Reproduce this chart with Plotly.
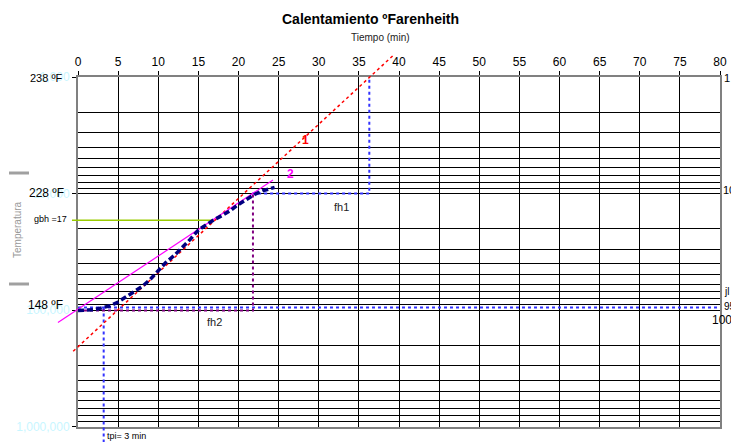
import math
import plotly.graph_objects as go

# ---------------- data ----------------
time_min = [0, 1, 2, 3, 4, 5, 6, 7, 8, 9, 10, 11, 12, 13, 14, 15, 16, 17, 18, 19, 20, 21, 22, 23, 24, 24.5]
g_curve = [101, 100.5, 99.5, 95.7, 92, 85.3, 77.4, 70.1, 62.8, 54.6, 46.4, 38.8, 34.0, 29.1, 24.7, 20.6,
           18.4, 16.7, 15.4, 14.0, 12.4, 11.2, 10.2, 9.5, 9.06, 8.85]

line1_t = [-0.6, 39.2]
line1_g = [226, 0.66]
line2_t = [-2.5, 24.3]
line2_g = [128, 7.66]

fh1_t = [21.7, 36.3, 36.3]
fh1_g = [10, 10, 1]
fh2_t = [0, 21.8, 21.8]
fh2_g = [101, 101, 10]

jl_t = [0, 80]
jl_g = [95, 95]
tpi_t = [3.2, 3.2]
tpi_g = [95, 1400]

gbh_t = [-0.75, 16.8]
gbh_g = [17, 17]

x_ticks = list(range(0, 81, 5))
y_major = [1, 10, 100, 1000]
y_major_text = ["1,000", "10,000", "100,000", "1,000,000"]
y_minor = [m * d for d in (1, 10, 100) for m in range(2, 10)]

# ---------------- geometry ----------------
W, H = 731, 442
X0, X1 = 78, 720
Y0, Y1 = 77, 426.5
XR = [0, 80]
YR_LOG = [3, 0]  # reversed log axis: 1 at top, 1000 at bottom

ppu = (X1 - X0) / (XR[1] - XR[0])
ppd = (Y1 - Y0) / (YR_LOG[0] - YR_LOG[1])
x2_range = [XR[0] - X0 / ppu, XR[1] + (W - X1) / ppu]
y2_range = [YR_LOG[0] + (H - Y1) / ppd, YR_LOG[1] - Y0 / ppd]

FONT = "Arial, Liberation Sans, sans-serif"

fig = go.Figure()

# dummy trace so the main grid subplot exists
fig.add_trace(go.Scatter(x=[40], y=[10], mode="markers", marker=dict(opacity=0), hoverinfo="skip",
                         showlegend=False, xaxis="x", yaxis="y"))

def add_line(t, g, color, width, dash):
    fig.add_trace(go.Scatter(x=t, y=g, mode="lines", line=dict(color=color, width=width, dash=dash),
                             showlegend=False, xaxis="x2", yaxis="y2", hoverinfo="skip"))

add_line(gbh_t, gbh_g, "#99CC00", 1.5, "solid")
add_line(jl_t, jl_g, "#3333FF", 2, "dot")
add_line(tpi_t, tpi_g, "#3333FF", 2, "dot")
add_line(fh1_t, fh1_g, "#3333FF", 2, "dot")
add_line(fh2_t, fh2_g, "#800080", 2, "dot")
add_line(line1_t, line1_g, "#FF0000", 1.5, "dot")
add_line(line2_t, line2_g, "#FF00FF", 1.2, "solid")
add_line(time_min, g_curve, "#000080", 3.5, "6px,3px")

# ---------------- annotations ----------------
def px(x):
    return x / W

def py(y):
    return 1 - y / H

ann = []
def txt(x, y, s, size=11, color="#000", xanchor="center", bold=False, angle=0):
    ann.append(dict(x=px(x), y=py(y), xref="paper", yref="paper", text=("<b>%s</b>" % s) if bold else s,
                    showarrow=False, xanchor=xanchor, yanchor="middle", textangle=angle,
                    font=dict(family=FONT, size=size, color=color)))

txt(370, 19, "Calentamiento ºFarenheith", size=14, bold=True)
txt(380, 37, "Tiempo (min)", size=10, color="#222")
txt(64, 78, "238 ºF", size=11, xanchor="right")
txt(66, 193, "228 ºF", size=12, xanchor="right")
txt(65, 305, "148 ºF", size=12, xanchor="right")
txt(69, 219, "gbh =17", size=9, xanchor="right")
txt(17, 230, "Temperatura", size=10, color="#999", angle=-90)
txt(305, 140, "1", size=12, color="#FF0000", bold=True)
txt(290, 174, "2", size=12, color="#FF00FF", bold=True)
txt(341, 207, "fh1", size=11, color="#222")
txt(214, 322, "fh2", size=11, color="#222")
txt(105, 436, "tpi= 3 min", size=9, xanchor="left")
txt(722, 78, "1", size=11, xanchor="left")
txt(721, 190, "10", size=11, xanchor="left")
txt(722, 291, "jl", size=10, xanchor="left")
txt(722, 306, "95", size=10, xanchor="left")
txt(710, 320, "100", size=12, xanchor="left")

shapes = [
    dict(type="line", xref="paper", yref="paper", x0=px(9), x1=px(29), y0=py(173), y1=py(173),
         line=dict(color="#A0A0A0", width=3)),
    dict(type="line", xref="paper", yref="paper", x0=px(9), x1=px(29), y0=py(284), y1=py(284),
         line=dict(color="#A0A0A0", width=3)),
]

fig.update_layout(
    width=W, height=H,
    margin=dict(l=0, r=0, t=0, b=0, autoexpand=False),
    paper_bgcolor="white",
    plot_bgcolor="rgba(0,0,0,0)",
    showlegend=False,
    annotations=ann,
    shapes=shapes,
    xaxis=dict(domain=[X0 / W, X1 / W], range=XR, side="top", anchor="y", automargin=False,
               tickmode="array", tickvals=x_ticks, ticks="outside", ticklen=4, tickcolor="#000",
               showgrid=True, gridcolor="#000", gridwidth=1, zeroline=False,
               showline=True, linecolor="#808080", linewidth=2, mirror=True,
               tickfont=dict(family=FONT, size=12, color="#000")),
    yaxis=dict(domain=[1 - Y1 / H, 1 - Y0 / H], type="log", range=YR_LOG, anchor="x", automargin=False,
               tickmode="array", tickvals=y_major, ticktext=y_major_text, ticks="outside", ticklen=4,
               tickcolor="#000", showgrid=True, gridcolor="#000", gridwidth=1, zeroline=False,
               showline=True, linecolor="#808080", linewidth=2, mirror=True,
               tickfont=dict(family=FONT, size=12, color="#C8F6FF"),
               minor=dict(tickmode="array", tickvals=y_minor, showgrid=True, gridcolor="#000",
                          gridwidth=1, ticks="")),
    xaxis2=dict(domain=[0, 1], range=x2_range, anchor="y2", visible=False, showgrid=False, automargin=False),
    yaxis2=dict(domain=[0, 1], range=y2_range, type="log", anchor="x2", visible=False, showgrid=False,
                automargin=False),
)

fig.write_html("out.html", config={"displayModeBar": False},
               post_script="document.body.style.margin='0';document.body.style.overflow='hidden';")
